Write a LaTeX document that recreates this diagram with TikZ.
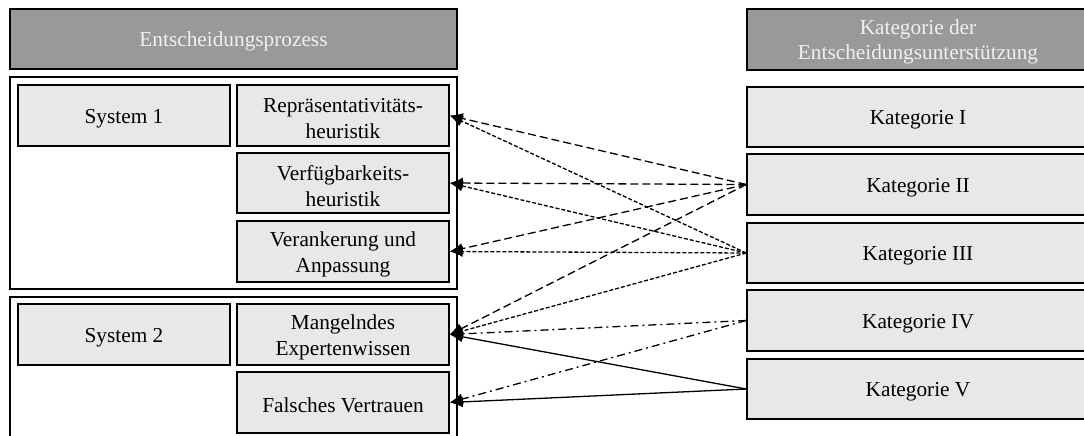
\documentclass[tikz,border=0pt]{standalone}
\usepackage{fontspec}
\setmainfont{Liberation Serif}
\usetikzlibrary{arrows.meta}
\definecolor{hdr}{HTML}{999999}
\definecolor{lbox}{HTML}{E8E8E8}
\begin{document}
\begin{tikzpicture}[x=1pt,y=-1pt,
  base/.style={draw=black,line width=1.5pt,inner sep=0pt},
  hdrbox/.style={base,fill=hdr},
  lightbox/.style={base,fill=lbox},
  txt/.style={inner sep=0pt,align=center,font=\fontsize{21.3}{25.5}\selectfont,text=black},
  hdrtxt/.style={txt,text=white!94!black},
  frame/.style={draw=black,line width=1.5pt},
  conn/.style={line width=1.3pt,-{Latex[length=13pt,width=11pt]}},
  longdash/.style={conn,dash pattern=on 8pt off 4pt},
  shortdash/.style={conn,dash pattern=on 4pt off 2pt},
  dashdot/.style={conn,dash pattern=on 8pt off 4pt on 2pt off 4pt},
  solidarr/.style={conn}]
\useasboundingbox (0,0) rectangle (1084,436);
\begin{scope}
\clip (0,0) rectangle (1084,436);
% left
\node[hdrbox,minimum width=447pt,minimum height=60pt] (lh) at (233.5,39) {};
\draw[frame] (10,77) rectangle (457,289);
\draw[frame] (10,297) rectangle (457,460);
\node[lightbox,minimum width=212pt,minimum height=61pt] (s1) at (124,115.5) {};
\node[lightbox,minimum width=212pt,minimum height=61pt] (rep) at (343,115.5) {};
\node[lightbox,minimum width=212pt,minimum height=60pt] (ver) at (343,183) {};
\node[lightbox,minimum width=212pt,minimum height=61pt] (anc) at (343,251.5) {};
\node[lightbox,minimum width=212pt,minimum height=61pt] (s2) at (124,334.5) {};
\node[lightbox,minimum width=212pt,minimum height=61pt] (man) at (343,334.5) {};
\node[lightbox,minimum width=212pt,minimum height=61pt] (fal) at (343,402.5) {};
% right
\node[hdrbox,minimum width=342pt,minimum height=61pt] (rh) at (918,39.5) {};
\node[lightbox,minimum width=342pt,minimum height=60pt] (k1) at (918,117) {};
\node[lightbox,minimum width=342pt,minimum height=61pt] (k2) at (918,184.5) {};
\node[lightbox,minimum width=342pt,minimum height=60pt] (k3) at (918,253) {};
\node[lightbox,minimum width=342pt,minimum height=61pt] (k4) at (918,320.5) {};
\node[lightbox,minimum width=342pt,minimum height=60pt] (k5) at (918,389) {};
\end{scope}
% texts
\node[hdrtxt] (lht) at ([yshift=-2.5pt]lh.center) {Entscheidungsprozess};
\node[txt] (s1t) at ([yshift=-3pt]s1.center) {System 1};
\node[txt] (rept) at ([yshift=-3pt]rep.center) {Repräsentativitäts-\\heuristik};
\node[txt] (vert) at ([yshift=-3pt]ver.center) {Verfügbarkeits-\\heuristik};
\node[txt] (anct) at ([yshift=-3pt]anc.center) {Verankerung und\\Anpassung};
\node[txt] (s2t) at ([yshift=-3pt]s2.center) {System 2};
\node[txt] (mant) at ([yshift=-3pt]man.center) {Mangelndes\\Expertenwissen};
\node[txt] (falt) at ([yshift=-3pt]fal.center) {Falsches Vertrauen};
\node[hdrtxt] (rht) at ([yshift=-2.5pt]rh.center) {Kategorie der\\Entscheidungsunterstützung};
\node[txt] (k1t) at ([yshift=-3pt]k1.center) {Kategorie I};
\node[txt] (k2t) at ([yshift=-3pt]k2.center) {Kategorie II};
\node[txt] (k3t) at ([yshift=-3pt]k3.center) {Kategorie III};
\node[txt] (k4t) at ([yshift=-3pt]k4.center) {Kategorie IV};
\node[txt] (k5t) at ([yshift=-3pt]k5.center) {Kategorie V};
% connectors
\draw[longdash] (k2.west) -- (rep.east);
\draw[longdash] (k2.west) -- (ver.east);
\draw[longdash] (k2.west) -- (anc.east);
\draw[longdash] (k2.west) -- (man.east);
\draw[shortdash] (k3.west) -- (rep.east);
\draw[shortdash] (k3.west) -- (ver.east);
\draw[shortdash] (k3.west) -- (anc.east);
\draw[shortdash] (k3.west) -- (man.east);
\draw[dashdot] (k4.west) -- (man.east);
\draw[dashdot] (k4.west) -- (fal.east);
\draw[solidarr] (k5.west) -- (man.east);
\draw[solidarr] (k5.west) -- (fal.east);
\end{tikzpicture}
\end{document}
